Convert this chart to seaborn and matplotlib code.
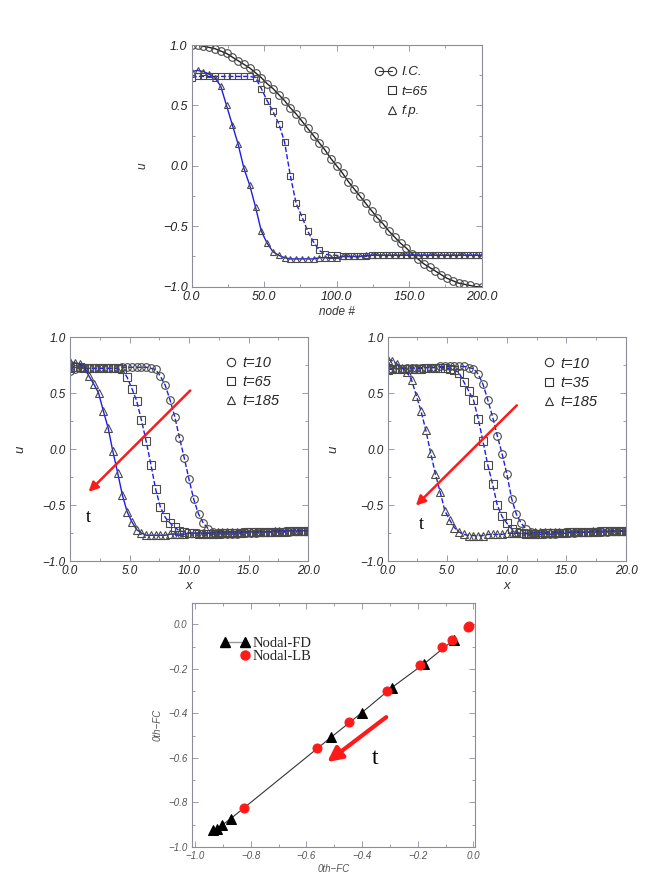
import matplotlib

matplotlib.use("Agg")
import matplotlib.pyplot as plt
import numpy as np
import seaborn as sns
from matplotlib.legend_handler import HandlerLine2D
from matplotlib.lines import Line2D
from matplotlib.ticker import FuncFormatter, MultipleLocator

# ---- top panel: u along the node index ----
nodes = np.arange(0, 201, 4)
u_ic = [1.00, 1.00, 0.99, 0.98, 0.97, 0.95, 0.93, 0.90, 0.87, 0.84, 0.81, 0.77,
        0.73, 0.68, 0.64, 0.59, 0.54, 0.48, 0.43, 0.37, 0.31, 0.25, 0.19, 0.13,
        0.06, 0.00, -0.06, -0.13, -0.19, -0.25, -0.31, -0.37, -0.43, -0.48,
        -0.54, -0.59, -0.64, -0.68, -0.73, -0.77, -0.81, -0.84, -0.87, -0.90,
        -0.93, -0.95, -0.97, -0.98, -0.99, -1.00, -1.00]
u_t65 = [0.73, 0.74, 0.74, 0.74, 0.74, 0.74, 0.74, 0.74, 0.74, 0.74, 0.74, 0.73,
         0.64, 0.54, 0.45, 0.35, 0.20, -0.08, -0.31, -0.42, -0.54, -0.63, -0.70,
         -0.73, -0.74, -0.74, -0.75, -0.75, -0.75, -0.75, -0.75, -0.74, -0.74,
         -0.74, -0.74, -0.74, -0.74, -0.74, -0.74, -0.74, -0.74, -0.74, -0.74,
         -0.74, -0.74, -0.74, -0.74, -0.74, -0.74, -0.74, -0.74]
u_fp = [0.78, 0.79, 0.78, 0.76, 0.73, 0.66, 0.50, 0.34, 0.18, -0.02, -0.16,
        -0.34, -0.54, -0.64, -0.71, -0.74, -0.76, -0.77, -0.77, -0.77, -0.77,
        -0.77, -0.76, -0.76, -0.76, -0.76, -0.75, -0.75, -0.75, -0.75, -0.74,
        -0.74, -0.74, -0.74, -0.74, -0.74, -0.74, -0.74, -0.74, -0.74, -0.74,
        -0.74, -0.74, -0.74, -0.74, -0.74, -0.74, -0.74, -0.74, -0.74, -0.74]

# ---- middle panels: u along x ----
x_pos = np.linspace(0, 20, 51)
tail_circ = [-0.76, -0.76, -0.76, -0.76, -0.75, -0.75, -0.75, -0.75, -0.74, -0.74,
             -0.74, -0.74, -0.74, -0.74, -0.74, -0.73, -0.73, -0.73, -0.73]
tail_tri = [-0.77, -0.77, -0.77, -0.77, -0.76, -0.76, -0.76, -0.76, -0.75, -0.75,
            -0.75, -0.75, -0.75, -0.75, -0.74, -0.74, -0.74, -0.74, -0.74, -0.74,
            -0.74, -0.74, -0.74, -0.74, -0.74, -0.74, -0.73, -0.73, -0.73, -0.73,
            -0.73, -0.73, -0.73, -0.73]

left_t10 = [0.70, 0.71, 0.72, 0.72, 0.72, 0.72, 0.72, 0.72, 0.72, 0.72, 0.72, 0.73,
            0.73, 0.73, 0.73, 0.73, 0.73, 0.72, 0.71, 0.65, 0.57, 0.44, 0.29, 0.10,
            -0.08, -0.27, -0.45, -0.58, -0.66, -0.71, -0.74, -0.75] + tail_circ
left_t65 = [0.72, 0.73, 0.73, 0.72, 0.72, 0.72, 0.72, 0.72, 0.72, 0.72, 0.72, 0.71,
            0.64, 0.54, 0.43, 0.26, 0.07, -0.14, -0.36, -0.52, -0.61, -0.66, -0.70,
            -0.73, -0.74, -0.75, -0.75, -0.76, -0.76, -0.76, -0.76, -0.76, -0.75,
            -0.75, -0.75, -0.75, -0.75, -0.74, -0.74, -0.74, -0.74, -0.74, -0.74,
            -0.74, -0.74, -0.74, -0.73, -0.73, -0.73, -0.73, -0.73]
left_t185 = [0.78, 0.77, 0.76, 0.73, 0.65, 0.58, 0.50, 0.34, 0.19, -0.02, -0.21,
             -0.41, -0.56, -0.65, -0.72, -0.75, -0.77] + tail_tri

right_t10 = [0.71, 0.72, 0.72, 0.72, 0.73, 0.73, 0.73, 0.73, 0.73, 0.73, 0.73, 0.74,
             0.74, 0.74, 0.74, 0.74, 0.74, 0.73, 0.72, 0.67, 0.58, 0.44, 0.29, 0.12,
             -0.04, -0.22, -0.44, -0.58, -0.66, -0.71, -0.74, -0.75] + tail_circ
right_t35 = [0.71, 0.72, 0.72, 0.72, 0.72, 0.72, 0.72, 0.72, 0.73, 0.73, 0.73, 0.73,
             0.73, 0.72, 0.71, 0.68, 0.60, 0.52, 0.44, 0.27, 0.07, -0.14, -0.31,
             -0.50, -0.60, -0.66, -0.71, -0.74, -0.75, -0.76, -0.76, -0.76, -0.76,
             -0.75, -0.75, -0.75, -0.75, -0.75, -0.74, -0.74, -0.74, -0.74, -0.74,
             -0.74, -0.74, -0.73, -0.73, -0.73, -0.73, -0.73, -0.73]
right_t185 = [0.80, 0.79, 0.76, 0.73, 0.69, 0.62, 0.48, 0.34, 0.17, -0.03, -0.22,
              -0.38, -0.55, -0.63, -0.70, -0.74, -0.76] + tail_tri

# ---- bottom panel: 0th-FC comparison ----
fd_x = [-0.070, -0.177, -0.293, -0.401, -0.510, -0.872, -0.904, -0.922, -0.937]
fd_y = [-0.069, -0.177, -0.284, -0.397, -0.506, -0.873, -0.903, -0.918, -0.925]
lb_x = [-0.017, -0.020, -0.077, -0.114, -0.192, -0.309, -0.446, -0.563, -0.824]
lb_y = [-0.006, -0.012, -0.069, -0.102, -0.183, -0.299, -0.439, -0.555, -0.823]

BLUE = "#1c1cf0"
EDGE = "#4a4a4a"
RED = "#ff1a1a"
SPINE = "#8c8c9c"
SANS = "Liberation Sans"
SERIF = "Liberation Serif"


class RightMarkerHandler(HandlerLine2D):
    """Two-point legend handle that only marks the right-hand point."""

    def create_artists(self, *args, **kwargs):
        artists = super().create_artists(*args, **kwargs)
        for artist in artists:
            artist.set_markevery([1])
        return artists


def tick_text(value, _pos):
    text = f"{value:.1f}"
    if text == "-0.0":
        text = "0.0"
    return text.replace("-", "\u2212")


def draw_series(ax, x, y, marker, linestyle, linecolor=BLUE, ms=5.0):
    sns.lineplot(x=x, y=y, ax=ax, color=linecolor, linestyle=linestyle,
                 linewidth=1.0, marker=marker, markersize=ms,
                 markerfacecolor="none", markeredgecolor=EDGE,
                 markeredgewidth=0.8)


def style_axes(ax, xlim, ylim, xmajor, ymajor, size=8.5):
    ax.set_xlim(*xlim)
    ax.set_ylim(*ylim)
    ax.xaxis.set_major_locator(MultipleLocator(xmajor))
    ax.yaxis.set_major_locator(MultipleLocator(ymajor))
    ax.xaxis.set_minor_locator(MultipleLocator(xmajor / 2))
    ax.yaxis.set_minor_locator(MultipleLocator(ymajor / 2))
    ax.xaxis.set_major_formatter(FuncFormatter(tick_text))
    ax.yaxis.set_major_formatter(FuncFormatter(tick_text))
    ax.tick_params(which="both", direction="in", top=True, right=True,
                   color=SPINE, width=0.6, labelsize=size, labelcolor="#222222",
                   pad=3)
    ax.tick_params(which="major", length=4)
    ax.tick_params(which="minor", length=2.5)
    for spine in ax.spines.values():
        spine.set_color(SPINE)
        spine.set_linewidth(0.8)
    for label in ax.get_xticklabels() + ax.get_yticklabels():
        label.set_fontstyle("italic")
        label.set_fontfamily(SANS)


def marker_handle(marker, line=False):
    return Line2D([], [], marker=marker, linestyle="-" if line else "None",
                  color="#333333", linewidth=0.8, markersize=6,
                  markerfacecolor="none", markeredgecolor="#333333",
                  markeredgewidth=0.8)


sns.set_style("ticks")
plt.rcParams["font.family"] = [SANS, "DejaVu Sans"]

W, H = 654, 889
fig = plt.figure(figsize=(W / 100, H / 100), dpi=100)


def px_axes(left, top, right, bottom):
    return fig.add_axes([left / W, 1 - bottom / H, (right - left) / W,
                         (bottom - top) / H])


label_font = dict(fontsize=8.5, fontstyle="italic", color="#333333")

# top panel
ax_top = px_axes(191.7, 45, 481.7, 286.7)
draw_series(ax_top, nodes, u_ic, "o", "-", linecolor="#222222", ms=5.5)
draw_series(ax_top, nodes, u_t65, "s", "--", ms=4.5)
draw_series(ax_top, nodes, u_fp, "^", "-", ms=5.0)
style_axes(ax_top, (0, 200), (-1, 1), 50, 0.5, size=9)
ax_top.set_xlabel("node #", labelpad=2, **label_font)
ax_top.set_ylabel("u", labelpad=10, **label_font)
top_handles = [marker_handle("o", line=True), marker_handle("s"),
               marker_handle("^")]
ax_top.legend(top_handles, ["I.C.", "t=65", "f.p."], loc="upper left",
              bbox_to_anchor=(0.615, 0.935), frameon=False, numpoints=2,
              handlelength=1.6, handletextpad=0.35, labelspacing=0.55,
              borderaxespad=0,
              handler_map={top_handles[1]: RightMarkerHandler(),
                           top_handles[2]: RightMarkerHandler()},
              prop=dict(family=SANS, style="italic", size=9.5))

# middle panels
mid_specs = [
    ((70, 337, 308, 561), [left_t10, left_t65, left_t185], ["--", "--", "-"],
     ["t=10", "t=65", "t=185"], (10.27, 0.54), (1.4, -0.40), (1.54, -0.61), 12),
    ((387.7, 337.3, 626, 561.3), [right_t10, right_t35, right_t185],
     ["--", "--", "--"], ["t=10", "t=35", "t=185"], (11.0, 0.41),
     (2.2, -0.52), (2.85, -0.67), 15),
]
for box, series, styles, labels, tail, head, t_pos, ypad in mid_specs:
    ax = px_axes(*box)
    for values, marker, ls in zip(series, ["o", "s", "^"], styles):
        draw_series(ax, x_pos, values, marker, ls, ms=5.5)
    style_axes(ax, (0, 20), (-1, 1), 5, 0.5)
    ax.set_xlabel("x", labelpad=2, fontsize=9.5, fontstyle="italic",
                  color="#333333")
    ax.set_ylabel("u", labelpad=ypad, fontsize=9.5, fontstyle="italic",
                  color="#333333")
    handles = [marker_handle(m) for m in ["o", "s", "^"]]
    ax.legend(handles, labels, loc="upper left", bbox_to_anchor=(0.625, 0.94),
              frameon=False, numpoints=1, handlelength=0.9,
              handletextpad=0.35, labelspacing=0.35, borderaxespad=0,
              prop=dict(family=SANS, style="italic", size=10.5))
    ax.annotate("", xy=head, xytext=tail,
                arrowprops=dict(arrowstyle="-|>", color=RED, lw=1.8,
                                mutation_scale=14))
    ax.text(*t_pos, "t", fontsize=13, family=SERIF, ha="center",
            va="center", color="black")

# bottom panel
ax_bot = px_axes(191.7, 603, 475, 847)
sns.lineplot(x=fd_x, y=fd_y, ax=ax_bot, color="#333333", linewidth=0.8,
             marker="^", markersize=6.5, markerfacecolor="black",
             markeredgecolor="black", sort=True)
sns.lineplot(x=lb_x, y=lb_y, ax=ax_bot, color=RED, linestyle="None",
             marker="o", markersize=6.5, markerfacecolor=RED,
             markeredgecolor=RED)
style_axes(ax_bot, (-1.012, 0.006), (-1.0, 0.096), 0.2, 0.2, size=7)
ax_bot.tick_params(which="both", labelcolor="#555555")
ax_bot.set_xlabel("0th\u2212FC", labelpad=2, fontsize=7, fontstyle="italic",
                  color="#555555")
ax_bot.set_ylabel("0th\u2212FC", labelpad=4, fontsize=7, fontstyle="italic",
                  color="#555555")
bot_handles = [Line2D([], [], color="#999999", linewidth=1.0, marker="^",
                      markersize=6.5, markerfacecolor="black",
                      markeredgecolor="black"),
               Line2D([], [], linestyle="None", marker="o", markersize=6.5,
                      markerfacecolor=RED, markeredgecolor=RED)]
ax_bot.legend(bot_handles, ["Nodal-FD", "Nodal-LB"], loc="upper left",
              bbox_to_anchor=(0.08, 0.885), frameon=False, numpoints=2,
              handlelength=2.0, handletextpad=0.2, labelspacing=0.0,
              borderaxespad=0,
              handler_map={bot_handles[1]: RightMarkerHandler()},
              prop=dict(family=SERIF, size=10.5))
ax_bot.annotate("", xy=(-0.533, -0.626), xytext=(-0.305, -0.409),
                arrowprops=dict(arrowstyle="-|>", color=RED, lw=3,
                                mutation_scale=22))
ax_bot.text(-0.353, -0.603, "t", fontsize=17, family=SERIF, ha="center",
            va="center", color="black")

fig.savefig("out.png", dpi=100)
plt.close(fig)
